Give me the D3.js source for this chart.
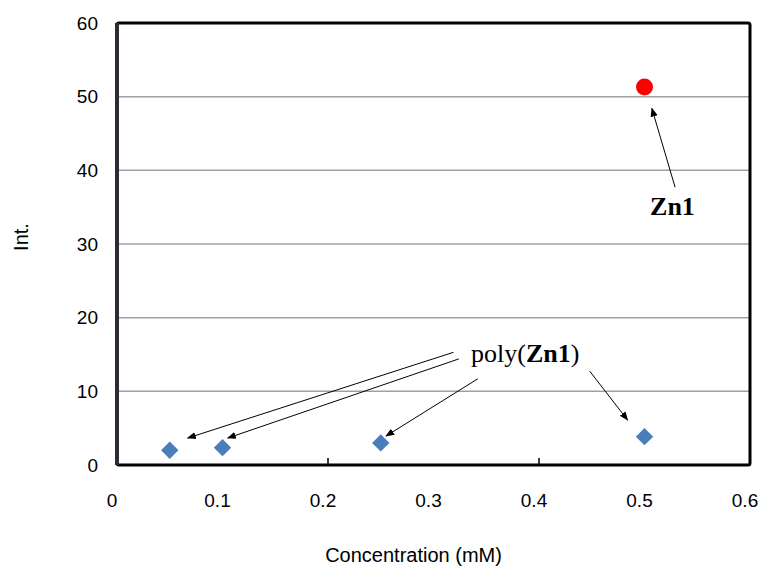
<!DOCTYPE html>
<html>
<head>
<meta charset="utf-8">
<script src="https://cdn.jsdelivr.net/npm/d3@7"></script>
<style>
  html, body { margin: 0; background: #fff; overflow: hidden; }
  svg { display: block; }
  .tick-label { font-family: "Liberation Sans", Arial, sans-serif; font-size: 19px; fill: #000; }
  .axis-title { font-family: "Liberation Sans", Arial, sans-serif; font-size: 20px; fill: #000; }
  .note { font-family: "Liberation Serif", "Times New Roman", serif; font-size: 26px; fill: #000; }
</style>
</head>
<body>
<div id="grafico"></div>
<script>
// data
const polyX = [0.05, 0.1, 0.25, 0.5];
const polyY = [2.0, 2.35, 3.0, 3.85];
const zn1X = [0.5];
const zn1Y = [51.3];
const xTicks = [0, 0.1, 0.2, 0.3, 0.4, 0.5, 0.6];
const yTicks = [0, 10, 20, 30, 40, 50, 60];
const gridValues = [10, 20, 30, 40, 50];
const innerTicks = [0.2, 0.4];

// annotation arrows, in data units: [fromX, fromY, toX, toY]
const polyArrows = [
  [0.319, 15.3, 0.067, 3.66],
  [0.324, 14.4, 0.105, 3.66],
  [0.342, 11.7, 0.255, 3.93],
  [0.448, 12.75, 0.484, 6.1]
];
const zn1Arrow = [[0.529, 37.7, 0.507, 48.4]];

const margin = {top: 23, right: 8, bottom: 107, left: 117};
const width = 758 - margin.left - margin.right;
const height = 572 - margin.top - margin.bottom;

const svg = d3.select("#grafico")
  .append("svg")
    .attr("width", 758)
    .attr("height", 572)
  .append("g")
    .attr("transform", `translate(${margin.left},${margin.top})`);

const x = d3.scaleLinear().domain([0, 0.6]).range([0, width]);
const y = d3.scaleLinear().domain([0, 60]).range([height, 0]);

svg.append("defs").append("marker")
  .attr("id", "arrow")
  .attr("viewBox", "0 0 10 10")
  .attr("refX", 9).attr("refY", 5)
  .attr("markerWidth", 9).attr("markerHeight", 9)
  .attr("markerUnits", "userSpaceOnUse")
  .attr("orient", "auto")
  .append("path")
    .attr("d", "M0,1 L10,5 L0,9 Z")
    .attr("fill", "#000");

// gridlines
svg.selectAll(".grid")
  .data(gridValues)
  .enter()
  .append("line")
    .attr("x1", 0).attr("x2", width)
    .attr("y1", d => y(d)).attr("y2", d => y(d))
    .attr("stroke", "#9ea39a")
    .attr("stroke-width", 1.5);

// inner ticks on bottom
svg.selectAll(".itick")
  .data(innerTicks)
  .enter()
  .append("line")
    .attr("x1", d => x(d)).attr("x2", d => x(d))
    .attr("y1", height).attr("y2", height - 7)
    .attr("stroke", "#000")
    .attr("stroke-width", 1.5);

// frame
svg.append("rect")
  .attr("x", 0).attr("y", 0)
  .attr("width", width).attr("height", height)
  .attr("rx", 2)
  .attr("fill", "none")
  .attr("stroke", "#000")
  .attr("stroke-width", 3);

svg.append("line")
  .attr("x1", 0).attr("x2", 0)
  .attr("y1", 0).attr("y2", height)
  .attr("stroke", "#2b2d36")
  .attr("stroke-width", 4);

// tick labels
svg.selectAll(".ylab")
  .data(yTicks)
  .enter()
  .append("text")
    .attr("class", "tick-label")
    .attr("x", -19)
    .attr("y", d => y(d))
    .attr("dy", "0.35em")
    .style("text-anchor", "end")
    .text(d => d);

svg.selectAll(".xlab")
  .data(xTicks)
  .enter()
  .append("text")
    .attr("class", "tick-label")
    .attr("x", d => x(d) - 5)
    .attr("y", height + 42)
    .style("text-anchor", "middle")
    .text(d => d);

// axis titles
svg.append("text")
  .attr("class", "axis-title")
  .attr("transform", "rotate(-90)")
  .attr("x", -(height / 2) + 7)
  .attr("y", -89)
  .style("text-anchor", "middle")
  .text("Int.");

svg.append("text")
  .attr("class", "axis-title")
  .attr("x", width / 2 - 20)
  .attr("y", height + 97)
  .style("text-anchor", "middle")
  .text("Concentration (mM)");

// points
svg.selectAll(".diamond")
  .data(polyX)
  .enter()
  .append("path")
    .attr("d", d3.symbol().type(d3.symbolSquare).size(150))
    .attr("transform", (d, i) => `translate(${x(d)},${y(polyY[i])}) rotate(45)`)
    .attr("fill", "#4a7ebb");

svg.selectAll(".dot")
  .data(zn1X)
  .enter()
  .append("circle")
    .attr("cx", d => x(d))
    .attr("cy", (d, i) => y(zn1Y[i]))
    .attr("r", 8.5)
    .attr("fill", "#ff0000");

// annotations
svg.selectAll(".arr")
  .data(polyArrows.concat(zn1Arrow))
  .enter()
  .append("line")
    .attr("x1", d => x(d[0])).attr("y1", d => y(d[1]))
    .attr("x2", d => x(d[2])).attr("y2", d => y(d[3]))
    .attr("stroke", "#000")
    .attr("stroke-width", 1)
    .attr("marker-end", "url(#arrow)");

const polyLabel = svg.append("text")
  .attr("class", "note")
  .attr("x", x(0.387))
  .attr("y", y(14.0))
  .style("text-anchor", "middle");
polyLabel.append("tspan").text("poly(");
polyLabel.append("tspan").style("font-weight", "bold").text("Zn1");
polyLabel.append("tspan").text(")");

svg.append("text")
  .attr("class", "note")
  .attr("x", x(0.5265))
  .attr("y", y(34.0))
  .style("text-anchor", "middle")
  .style("font-weight", "bold")
  .text("Zn1");
</script>
</body>
</html>
